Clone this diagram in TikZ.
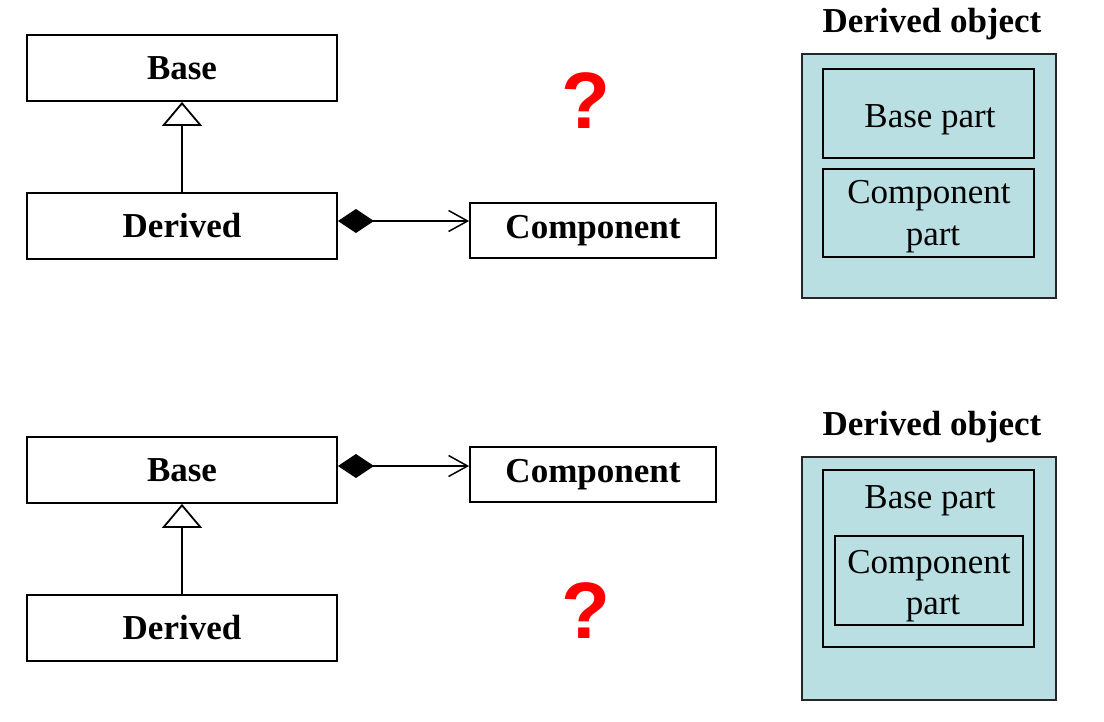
\documentclass[tikz,border=0pt]{standalone}
\usepackage{fontspec}
\setmainfont{Liberation Serif}
\newfontfamily\askfont{Liberation Sans}
\usetikzlibrary{arrows.meta}
\definecolor{partfill}{RGB}{185,223,226}

\begin{document}
\begin{tikzpicture}[x=1pt, y=-1pt,
        classbox/.style={draw, line width=1.8pt, minimum width=310pt, minimum height=66pt, inner sep=0pt,
            font=\fontsize{35}{42}\selectfont\bfseries},
        compbox/.style={draw, line width=1.8pt, minimum width=246pt, minimum height=55pt, inner sep=0pt,
            font=\fontsize{35}{42}\selectfont\bfseries},
        objbox/.style={draw=black!85, line width=1.4pt, fill=partfill, inner sep=0pt},
        partbox/.style={draw, line width=1.4pt, inner sep=0pt},
        parttext/.style={anchor=base, inner sep=0pt, font=\fontsize{35}{42}\selectfont},
        titletext/.style={anchor=base, inner sep=0pt, font=\fontsize{35}{42}\selectfont\bfseries},
        ask/.style={text=red, inner sep=0pt, font=\askfont\bfseries\fontsize{80}{90}\selectfont},
        inherit/.style={line width=1.8pt, -{Triangle[open, length=24pt, width=40pt]}},
        compose/.style={line width=1.5pt, {Diamond[length=36pt, width=24pt]}-{Straight Barb[length=19pt, width=21pt]}}
    ]
        \useasboundingbox (0,0) rectangle (1104,721);

        % Upper case: Derived has a Component
        \node[classbox] (baseA) at (182,68) {Base};
        \node[classbox] (derivedA) at (182,226) {Derived};
        \node[compbox] (compA) at (593,230.5) {Component};
        \node[ask] (askA) at (586,101) {?};

        \draw[inherit] (derivedA) -- (baseA);
        \coordinate (holdA) at ([yshift=5pt]derivedA.east);
        \draw[compose] (holdA) -- (holdA -| compA.west);

        % Layout of the upper object
        \node[titletext] (titleA) at (932,32) {Derived object};
        \node[objbox, minimum width=254pt, minimum height=244pt] (objA) at (929,176) {};
        \node[partbox, minimum width=211pt, minimum height=89pt] (basepartA) at (928.5,113.5) {};
        \node[partbox, minimum width=211pt, minimum height=88pt] (comppartA) at (928.5,213) {};
        \node[parttext] (basetextA) at (930,127) {Base part};
        \node[parttext] (comptextA) at (929,203) {Component};
        \node[parttext] (parttextA) at (933,245) {part};

        % Lower case: Base has a Component
        \node[classbox] (baseB) at (182,470) {Base};
        \node[classbox] (derivedB) at (182,628) {Derived};
        \node[compbox] (compB) at (593,474.5) {Component};
        \node[ask] (askB) at (586,611) {?};

        \draw[inherit] (derivedB) -- (baseB);
        \coordinate (holdB) at ([yshift=4pt]baseB.east);
        \draw[compose] (holdB) -- (holdB -| compB.west);

        % Layout of the lower object
        \node[titletext] (titleB) at (932,435) {Derived object};
        \node[objbox, minimum width=254pt, minimum height=243pt] (objB) at (929,578.5) {};
        \node[partbox, minimum width=211pt, minimum height=177pt] (basepartB) at (928.5,558.5) {};
        \node[partbox, minimum width=188pt, minimum height=89pt] (comppartB) at (929,580.5) {};
        \node[parttext] (basetextB) at (930,508) {Base part};
        \node[parttext] (comptextB) at (929,573) {Component};
        \node[parttext] (parttextB) at (933,614) {part};
    \end{tikzpicture}
\end{document}
